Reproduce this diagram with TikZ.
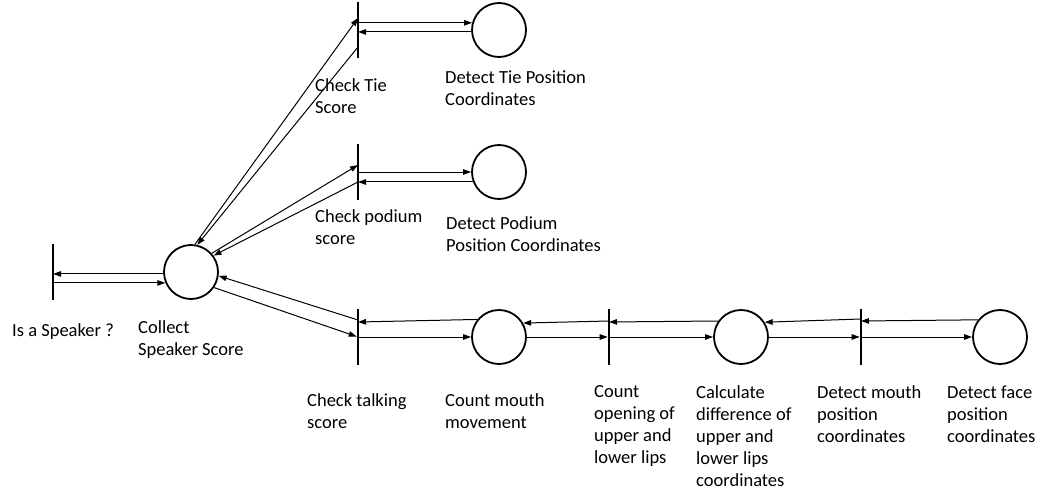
\documentclass[tikz,border=0pt]{standalone}
\usepackage{fontspec}
\setmainfont{Carlito}
\usetikzlibrary{arrows.meta,positioning}

\begin{document}
\begin{tikzpicture}[x=1pt, y=-1pt, >={Triangle[length=8pt,width=5.5pt]},
  place/.style={circle,draw,line width=1.8pt,minimum size=54pt,inner sep=0pt},
  trans/.style={rectangle,fill=black,minimum width=2.6pt,minimum height=56pt,inner sep=0pt,outer sep=0pt},
  line/.style={draw,line width=1pt,->},
  lbl/.style={anchor=north west,align=left,inner sep=0pt,font=\fontsize{18.5}{22}\selectfont,execute at begin node=\strut}]

  \useasboundingbox (0,0) rectangle (1044,495);

  \node[trans] (speaker) at (53,272) {};
  \node[place] (collect) at (191,272) {};
  \node[trans] (tie) at (358,30) {};
  \node[place] (tiepos) at (499,30) {};
  \node[trans] (podium) at (358,172) {};
  \node[place] (podpos) at (499,172) {};
  \node[trans] (talking) at (358,337) {};
  \node[place] (mouthmov) at (499,337) {};
  \node[trans] (opening) at (609,337) {};
  \node[place] (lipdiff) at (741,337) {};
  \node[trans] (mouthpos) at (861,337) {};
  \node[place] (facepos) at (1000,337) {};

  % labels, top of first line strut
  \node[lbl] (speakerlbl) at (12,320.5) {Is a Speaker ?};
  \node[lbl] (collectlbl) at (138,320.5) {Collect\\Speaker Score};
  \node[lbl] (tielbl) at (315,78.5) {Check Tie\\Score};
  \node[lbl] (tieposlbl) at (445,70.5) {Detect Tie Position\\Coordinates};
  \node[lbl] (podiumlbl) at (315,209.5) {Check podium\\score};
  \node[lbl] (podposlbl) at (446,216.5) {Detect Podium\\Position Coordinates};
  \node[lbl] (talkinglbl) at (307,393.5) {Check talking\\score};
  \node[lbl] (mouthmovlbl) at (445,393.5) {Count mouth\\movement};
  \node[lbl] (openinglbl) at (594,385.5) {Count\\opening of\\upper and\\lower lips};
  \node[lbl] (lipdifflbl) at (696,385.5) {Calculate\\difference of\\upper and\\lower lips\\coordinates};
  \node[lbl] (mouthposlbl) at (817,385.5) {Detect mouth\\position\\coordinates};
  \node[lbl] (faceposlbl) at (947,385.5) {Detect face\\position\\coordinates};

  % speaker <-> collect
  \draw[line] (collect.184) -- (collect.184 -| speaker);
  \draw[line] (speaker |- collect.203) -- (collect.203);

  % tie branch
  \draw[line] (collect.82) -- ([yshift=12pt]tie.center);
  \draw[line] ([yshift=-17pt]tie.center) -- (collect.77);
  \draw[line] (tie |- tiepos.165) -- (tiepos.165);
  \draw[line] (tiepos.184) -- (tiepos.184 -| tie);

  % podium branch
  \draw[line] (collect.42) -- ([yshift=7pt]podium.center);
  \draw[line] ([yshift=-10pt]podium.center) -- (collect.36);
  \draw[line] (podium) -- (podpos);
  \draw[line] (podpos.201) -- (podpos.201 -| podium);

  % talking branch
  \draw[line] ([yshift=17pt]talking.center) -- (collect.352);
  \draw[line] (collect.326) -- (talking);
  \draw[line] (mouthmov.141) -- ([yshift=15pt]talking.center);
  \draw[line] (talking) -- (mouthmov);
  \draw[line] (mouthmov) -- (opening);
  \draw[line] ([yshift=16pt]opening.center) -- (mouthmov.30);
  \draw[line] (lipdiff.145) -- ([yshift=15pt]opening.center);
  \draw[line] (opening) -- (lipdiff);
  \draw[line] ([yshift=18pt]mouthpos.center) -- (lipdiff.32);
  \draw[line] (lipdiff) -- (mouthpos);
  \draw[line] (facepos.142) -- ([yshift=16pt]mouthpos.center);
  \draw[line] (mouthpos) -- (facepos);
\end{tikzpicture}
\end{document}
